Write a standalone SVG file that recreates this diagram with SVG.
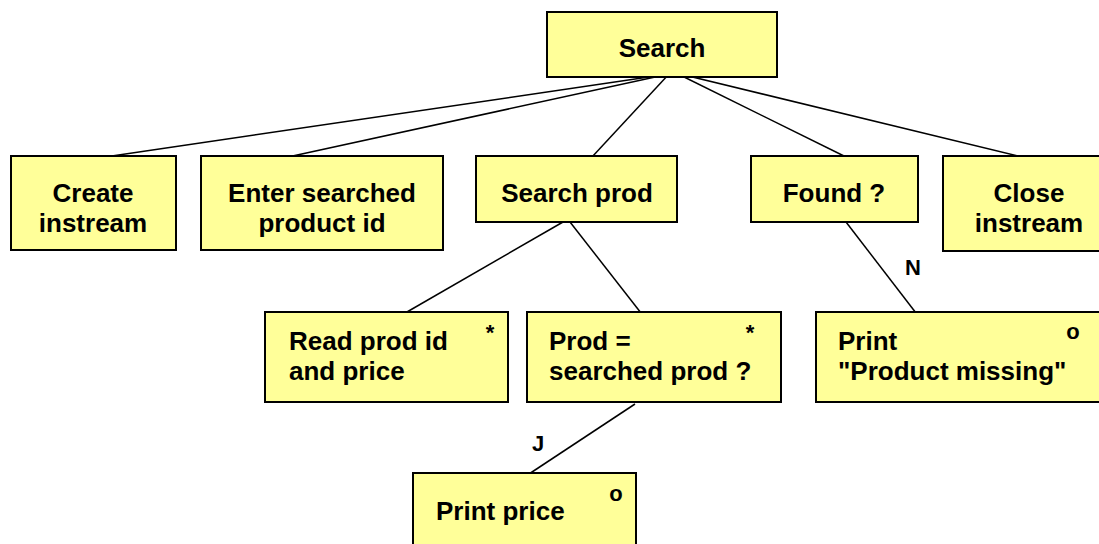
<svg xmlns="http://www.w3.org/2000/svg" width="1099" height="544" viewBox="0 0 1099 544">
<style>
.box{fill:#FFFF99;stroke:#000;stroke-width:2}
.t{font-family:"Liberation Sans",Arial,sans-serif;font-weight:bold;font-size:26px;fill:#000}
.c{text-anchor:middle}
.m{font-family:"Liberation Sans",Arial,sans-serif;font-weight:bold;font-size:22px;fill:#000;text-anchor:middle}
.ln{stroke:#000;stroke-width:1.5;fill:none}
</style>
<rect width="1099" height="544" fill="#fff"/>
<g id="connectors">
<line class="ln" x1="669" y1="74" x2="105" y2="157"/>
<line class="ln" x1="669" y1="74" x2="288" y2="157"/>
<line class="ln" x1="669" y1="74" x2="592" y2="157"/>
<line class="ln" x1="676" y1="73" x2="846" y2="157"/>
<line class="ln" x1="676" y1="73" x2="1022" y2="157"/>
<line class="ln" x1="563" y1="222" x2="400" y2="316"/>
<line class="ln" x1="570" y1="222" x2="641" y2="313"/>
<line class="ln" x1="846" y1="222" x2="916" y2="313"/>
<line class="ln" x1="635" y1="404" x2="529" y2="474"/>
<text class="m" x="913" y="275">N</text>
<text class="m" x="538" y="451">J</text>
</g>
<g id="n-search">
<rect class="box" x="547" y="12" width="230" height="65"/>
<text class="t c" x="662" y="57">Search</text>
</g>
<g id="n-create">
<rect class="box" x="11" y="156" width="165" height="94"/>
<text class="t c" x="93" y="202">Create</text>
<text class="t c" x="93" y="232">instream</text>
</g>
<g id="n-enter">
<rect class="box" x="201" y="156" width="242" height="94"/>
<text class="t c" x="322" y="202">Enter searched</text>
<text class="t c" x="322" y="232">product id</text>
</g>
<g id="n-searchprod">
<rect class="box" x="476" y="156" width="201" height="66"/>
<text class="t c" x="577" y="202">Search prod</text>
</g>
<g id="n-found">
<rect class="box" x="751" y="156" width="167" height="66"/>
<text class="t c" x="834" y="202">Found ?</text>
</g>
<g id="n-close">
<rect class="box" x="943" y="156" width="170" height="95"/>
<text class="t c" x="1029" y="202">Close</text>
<text class="t c" x="1029" y="232">instream</text>
</g>
<g id="n-read">
<rect class="box" x="265" y="312" width="243" height="90"/>
<text class="t" x="289" y="350">Read prod id</text>
<text class="t" x="289" y="380">and price</text>
<text class="m" x="490" y="340">*</text>
</g>
<g id="n-prod">
<rect class="box" x="527" y="312" width="254" height="90"/>
<text class="t" x="549" y="350">Prod =</text>
<text class="t" x="549" y="380">searched prod ?</text>
<text class="m" x="750" y="340">*</text>
</g>
<g id="n-missing">
<rect class="box" x="816" y="312" width="300" height="90"/>
<text class="t" x="838" y="350">Print</text>
<text class="t" x="838" y="380">"Product missing"</text>
<text class="m" x="1073" y="339">o</text>
</g>
<g id="n-printprice">
<rect class="box" x="413" y="473" width="223" height="90"/>
<text class="t" x="436" y="520">Print price</text>
<text class="m" x="616" y="501">o</text>
</g>
</svg>
